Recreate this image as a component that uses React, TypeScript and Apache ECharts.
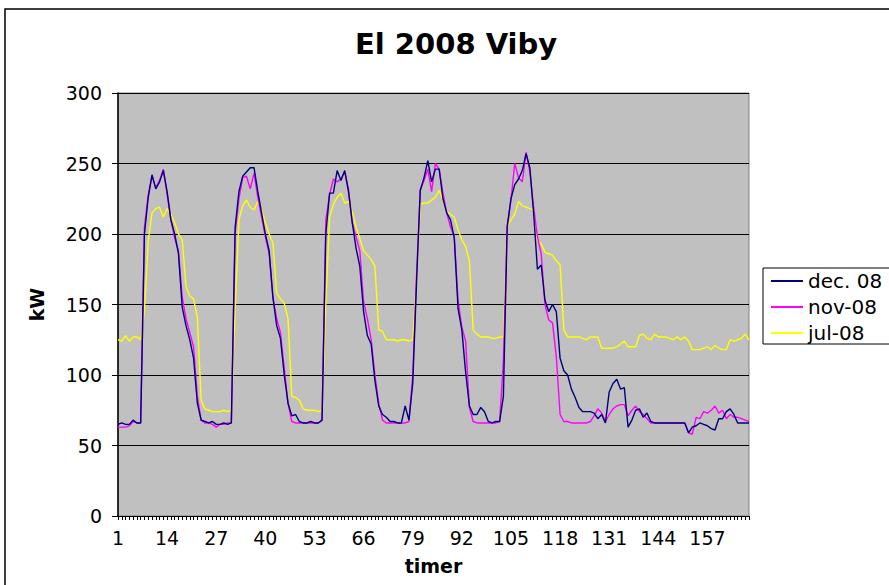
import React, { useEffect, useRef } from "react";
import * as echarts from "echarts";

const hours: string[] = Array.from({ length: 168 }, (_, i) => String(i + 1));

const dec08: number[] = [
  65, 66, 65, 65, 68, 66, 66, 200, 226, 242, 232, 237, 245, 230, 210, 200, 186, 148, 135, 125, 112, 80, 68, 67,
  66, 67, 65, 65, 66, 65, 66, 205, 230, 241, 244, 247, 247, 230, 215, 200, 188, 155, 135, 126, 100, 80, 71, 72,
  67, 66, 66, 67, 66, 66, 68, 200, 229, 229, 245, 238, 245, 230, 208, 190, 177, 145, 128, 122, 96, 78, 72, 70,
  67, 67, 66, 66, 78, 68, 94, 165, 231, 240, 252, 237, 246, 246, 225, 215, 210, 197, 147, 132, 102, 78, 72, 72,
  77, 74, 67, 66, 67, 67, 85, 205, 225, 235, 239, 245, 257, 247, 215, 175, 178, 153, 145, 150, 145, 112, 103, 100,
  90, 84, 77, 74, 74, 74, 73, 69, 72, 66, 88, 94, 97, 90, 91, 63, 68, 75, 76, 70, 73, 67, 66, 66,
  66, 66, 66, 66, 66, 66, 66, 59, 63, 64, 66, 65, 64, 62, 61, 69, 69, 74, 76, 72, 66, 66, 66, 66,
];

const nov08: number[] = [
  63, 63, 63, 64, 67, 66, 66, 205, 228, 241, 233, 238, 246, 228, 210, 197, 188, 155, 140, 130, 120, 85, 68, 66,
  66, 65, 63, 65, 65, 66, 66, 200, 225, 240, 241, 232, 243, 226, 212, 198, 186, 155, 140, 130, 105, 80, 67, 66,
  66, 66, 66, 66, 66, 66, 68, 210, 228, 239, 237, 239, 244, 232, 208, 198, 188, 152, 140, 125, 100, 80, 68, 66,
  66, 66, 66, 66, 66, 67, 99, 170, 231, 238, 246, 230, 250, 246, 229, 215, 205, 198, 153, 134, 124, 77, 67, 66,
  66, 66, 66, 66, 66, 67, 110, 205, 224, 250, 240, 237, 258, 244, 219, 198, 186, 150, 139, 137, 113, 72, 67, 67,
  66, 66, 66, 66, 66, 67, 71, 76, 73, 67, 72, 76, 78, 79, 79, 71, 75, 78, 74, 72, 69, 66, 66, 66,
  66, 66, 66, 66, 66, 66, 66, 59, 58, 70, 69, 74, 73, 75, 78, 73, 75, 69, 72, 70, 70, 69, 68, 67,
];

const jul08: number[] = [
  125, 124, 128, 124, 127, 127, 125, 145, 195, 215, 218, 219, 212, 218, 214, 208, 200, 196, 163, 156, 154, 141, 82, 76,
  75, 74, 74, 74, 75, 74, 75, 145, 210, 220, 224, 219, 217, 223, 217, 208, 200, 194, 158, 154, 151, 140, 85, 84,
  82, 76, 75, 75, 75, 74, 75, 150, 212, 221, 226, 229, 222, 223, 216, 205, 197, 188, 185, 182, 177, 132, 131, 125,
  125, 125, 124, 125, 125, 124, 125, 167, 221, 222, 222, 224, 226, 231, 224, 216, 214, 212, 203, 196, 191, 181, 132, 129,
  127, 127, 127, 126, 126, 127, 127, 205, 210, 214, 223, 220, 219, 218, 217, 195, 193, 187, 186, 185, 181, 178, 132, 127,
  127, 127, 127, 126, 125, 127, 127, 127, 119, 119, 119, 119, 120, 122, 124, 120, 120, 120, 128, 129, 126, 125, 129, 127,
  127, 127, 126, 125, 127, 125, 127, 124, 118, 118, 118, 119, 120, 118, 121, 119, 118, 118, 125, 124, 125, 126, 129, 125,
];

const seriesNames = ["dec. 08", "nov-08", "jul-08"];
const seriesColors = ["#000080", "#FF00FF", "#FFFF00"];
const FONT = "DejaVu Sans, Verdana, sans-serif";

export default function App() {
  const ref = useRef<HTMLDivElement>(null);

  useEffect(() => {
    if (!ref.current) return;
    const chart = echarts.init(ref.current, undefined, { renderer: "svg" });
    const datasets = [dec08, nov08, jul08];
    chart.setOption({
      animation: false,
      backgroundColor: "#ffffff",
      textStyle: { fontFamily: FONT, color: "#000" },
      title: {
        text: "El 2008 Viby",
        left: 350,
        top: 24,
        textStyle: { fontFamily: FONT, fontWeight: "bold", fontSize: 29, color: "#000" },
      },
      graphic: [
        {
          type: "rect",
          shape: { x: 5, y: 9, width: 900, height: 600 },
          style: { fill: "none", stroke: "#000", lineWidth: 1.5 },
          silent: true,
        },
      ],
      legend: {
        orient: "vertical",
        left: 763,
        top: 268,
        padding: [3, 30, 1, 8],
        itemGap: 6,
        itemWidth: 32,
        itemHeight: 2,
        icon: "path://M0,0 L32,0 L32,2 L0,2 Z",
        borderColor: "#000",
        borderWidth: 1,
        backgroundColor: "#fff",
        textStyle: { fontFamily: FONT, fontSize: 20, color: "#000" },
        data: seriesNames,
      },
      grid: {
        left: 118,
        top: 93,
        width: 631,
        height: 423,
        show: true,
        backgroundColor: "#C0C0C0",
        borderColor: "#808080",
        borderWidth: 1,
      },
      xAxis: {
        type: "category",
        data: hours,
        boundaryGap: false,
        axisLine: { lineStyle: { color: "#000", width: 1 } },
        axisTick: { show: true, interval: 0, length: 4, lineStyle: { color: "#000" } },
        axisLabel: { interval: 12, color: "#000", fontSize: 19, margin: 12, fontFamily: FONT },
        splitLine: { show: false },
        name: "timer",
        nameLocation: "middle",
        nameGap: 40,
        nameTextStyle: { fontFamily: FONT, fontWeight: "bold", fontSize: 19, color: "#000" },
      },
      yAxis: {
        type: "value",
        min: 0,
        max: 300,
        interval: 50,
        axisLine: { show: true, lineStyle: { color: "#000", width: 1.5 } },
        axisTick: { show: true, length: 6, lineStyle: { color: "#000" } },
        axisLabel: { color: "#000", fontSize: 19, margin: 16, fontFamily: FONT },
        splitLine: { show: true, lineStyle: { color: "#000", width: 1 } },
        name: "kW",
        nameLocation: "middle",
        nameGap: 72,
        nameTextStyle: { fontFamily: FONT, fontWeight: "bold", fontSize: 19, color: "#000" },
      },
      series: datasets.map((d, k) => ({
        name: seriesNames[k],
        type: "line",
        data: d,
        symbol: "none",
        color: seriesColors[k],
        lineStyle: { color: seriesColors[k], width: 1.4 },
        z: 3 - k,
      })),
    });
    return () => chart.dispose();
  }, []);

  return (
    <div
      ref={ref}
      style={{ position: "fixed", left: 0, top: 0, width: 889, height: 585 }}
    />
  );
}
